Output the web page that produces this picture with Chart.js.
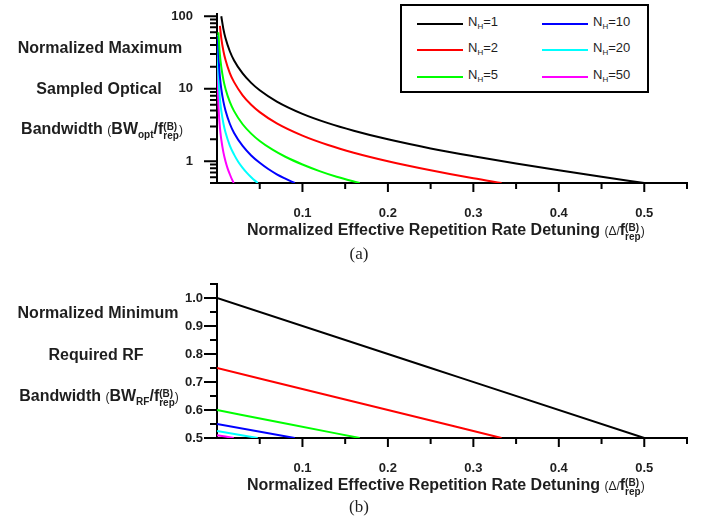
<!DOCTYPE html>
<html>
<head>
<meta charset="utf-8">
<script src="https://cdn.jsdelivr.net/npm/chart.js@4.4.1/dist/chart.umd.min.js"></script>
<style>
  html, body { margin: 0; padding: 0; background: #fff; }
  #wrap { position: relative; width: 711px; height: 521px; overflow: hidden;
          font-family: "Liberation Sans", Arial, sans-serif; color: #1e1e1e; }
  canvas { position: absolute; left: 0; }
  .ytl { position: absolute; font-weight: bold; font-size: 16px; line-height: 20px;
         white-space: nowrap; transform: translate(-50%, -50%); }
  .xtl { position: absolute; font-weight: bold; font-size: 16px; line-height: 20px;
         white-space: nowrap; transform: translateY(-50%); }
  .par { font-weight: normal; font-size: 12px; }
  .ytl sub { font-size: 10px; vertical-align: -4px; line-height: 0; }
  .ss { display: inline-block; vertical-align: -5px; font-size: 10px; line-height: 9px; text-align: left; }
  .ss span { display: block; }
  .cap { position: absolute; font-family: "Liberation Serif", "Times New Roman", serif;
         font-size: 17px; transform: translate(-50%, -50%); }
  #legenda { position: absolute; left: 400px; top: 4px; width: 249px; height: 89px;
             border: 2px solid #000; box-sizing: border-box; background: #fff; }
  .sw { position: absolute; width: 46px; height: 2px; }
  .lt { position: absolute; font-size: 13px; line-height: 15px; white-space: nowrap; }
  .lt sub { font-size: 8px; vertical-align: -3px; line-height: 0; }
</style>
</head>
<body>
<div id="wrap">
  <canvas id="graficoOpt" width="711" height="245" style="top:0px"></canvas>
  <canvas id="graficoRf" width="711" height="240" style="top:260px"></canvas>

  <div class="ytl" style="left:100px;top:48px">Normalized Maximum</div>
  <div class="ytl" style="left:99px;top:89px">Sampled Optical</div>
  <div class="ytl" style="left:102px;top:129px">Bandwidth <span class="par">(</span>BW<sub>opt</sub>/f<span class="ss"><span>(B)</span><span>rep</span></span><span class="par">)</span></div>
  <div class="xtl" style="left:247px;top:230px">Normalized Effective Repetition Rate Detuning <span class="par">(&Delta;/</span>f<span class="ss"><span>(B)</span><span>rep</span></span><span class="par">)</span></div>
  <div class="cap" style="left:359px;top:254px">(a)</div>

  <div class="ytl" style="left:98px;top:313px">Normalized Minimum</div>
  <div class="ytl" style="left:96px;top:355px">Required RF</div>
  <div class="ytl" style="left:99px;top:396px">Bandwidth <span class="par">(</span>BW<sub>RF</sub>/f<span class="ss"><span>(B)</span><span>rep</span></span><span class="par">)</span></div>
  <div class="xtl" style="left:247px;top:485px">Normalized Effective Repetition Rate Detuning <span class="par">(&Delta;/</span>f<span class="ss"><span>(B)</span><span>rep</span></span><span class="par">)</span></div>
  <div class="cap" style="left:359px;top:507px">(b)</div>

  <div id="legenda"></div>
</div>

<script>
// Series
const harmonics = [1, 2, 5, 10, 20, 50];
const lineColors = ['#000000', '#ff0000', '#00ff00', '#0000ff', '#00ffff', '#ff00ff'];

// (a) normalized max sampled optical bandwidth
const optX1 = [0.005, 0.0075, 0.01, 0.015, 0.02, 0.03, 0.04, 0.05, 0.07, 0.1, 0.13, 0.16, 0.2, 0.25, 0.3, 0.35, 0.4, 0.45, 0.5];
const optY1 = [99.5, 66.2, 49.5, 32.8, 24.5, 16.2, 12.0, 9.5, 6.64, 4.5, 3.35, 2.63, 2.0, 1.5, 1.17, 0.93, 0.75, 0.61, 0.5];
const optX2 = [0.0034, 0.005, 0.0075, 0.01, 0.015, 0.02, 0.03, 0.04, 0.05, 0.07, 0.1, 0.13, 0.16, 0.2, 0.25, 0.3, 0.333];
const optY2 = [73.3, 49.8, 33.1, 24.8, 16.4, 12.3, 8.1, 6.0, 4.75, 3.32, 2.25, 1.67, 1.31, 1.0, 0.75, 0.58, 0.5];
const optX5 = [0.00166, 0.0025, 0.0035, 0.005, 0.0075, 0.01, 0.015, 0.02, 0.03, 0.04, 0.05, 0.065, 0.08, 0.1, 0.12, 0.14, 0.167];
const optY5 = [60, 39.9, 28.5, 19.9, 13.2, 9.9, 6.57, 4.9, 3.23, 2.4, 1.9, 1.44, 1.15, 0.9, 0.73, 0.61, 0.5];
const optX10 = [0.00093, 0.0013, 0.0018, 0.0025, 0.0035, 0.005, 0.0075, 0.01, 0.015, 0.02, 0.03, 0.04, 0.05, 0.06, 0.07, 0.08, 0.091];
const optY10 = [53.7, 38.4, 27.7, 19.95, 14.2, 9.95, 6.62, 4.95, 3.28, 2.45, 1.62, 1.2, 0.95, 0.78, 0.66, 0.575, 0.5];
const optX20 = [0.00046, 0.0007, 0.001, 0.0015, 0.002, 0.003, 0.004, 0.005, 0.0075, 0.01, 0.015, 0.02, 0.025, 0.03, 0.035, 0.04, 0.0476];
const optY20 = [54.3, 35.7, 25.0, 16.6, 12.5, 8.3, 6.2, 4.98, 3.31, 2.48, 1.64, 1.23, 0.975, 0.81, 0.69, 0.6, 0.5];
const optX50 = [0.0004, 0.0006, 0.0008, 0.001, 0.0015, 0.002, 0.003, 0.004, 0.005, 0.0075, 0.01, 0.0125, 0.015, 0.0175, 0.0196];
const optY50 = [25.0, 16.7, 12.5, 9.99, 6.66, 4.99, 3.32, 2.49, 1.99, 1.32, 0.99, 0.79, 0.66, 0.56, 0.5];

// (b) normalized min required RF bandwidth (straight lines)
const rfX1 = [0, 0.25, 0.5];
const rfY1 = [1.0, 0.75, 0.5];
const rfX2 = [0, 0.1667, 0.333];
const rfY2 = [0.75, 0.625, 0.5];
const rfX5 = [0, 0.0833, 0.167];
const rfY5 = [0.6, 0.55, 0.5];
const rfX10 = [0, 0.091];
const rfY10 = [0.55, 0.5];
const rfX20 = [0, 0.0476];
const rfY20 = [0.525, 0.5];
const rfX50 = [0, 0.0196];
const rfY50 = [0.51, 0.5];

// Tick values
const detuneTicks = [0.1, 0.2, 0.3, 0.4, 0.5];
const detuneMinor = [0.05, 0.15, 0.25, 0.35, 0.45, 0.55];
const optTicks = [1, 10, 100];
const optMinor = [0.5, 0.6, 0.7, 0.8, 0.9, 2, 3, 4, 5, 6, 7, 8, 9, 20, 30, 40, 50, 60, 70, 80, 90];
const rfTicks = [0.5, 0.6, 0.7, 0.8, 0.9, 1.0];
const rfMinor = [0.55, 0.65, 0.75, 0.85, 0.95, 1.05];

const optXs = [optX1, optX2, optX5, optX10, optX20, optX50];
const optYs = [optY1, optY2, optY5, optY10, optY20, optY50];
const rfXs = [rfX1, rfX2, rfX5, rfX10, rfX20, rfX50];
const rfYs = [rfY1, rfY2, rfY5, rfY10, rfY20, rfY50];

Chart.defaults.font.family = '"Liberation Sans", Arial, sans-serif';

// Outward tick marks, major and minor
const tickMarks = {
  id: 'tickMarks',
  afterDraw(chart, args, opts) {
    const { ctx } = chart;
    const sx = chart.scales.x;
    const sy = chart.scales.y;
    const base = chart.chartArea.bottom;
    const left = chart.chartArea.left;
    ctx.save();
    ctx.strokeStyle = '#000';
    ctx.lineWidth = 2;
    ctx.beginPath();
    opts.xMajor.forEach(v => { const p = sx.getPixelForValue(v); ctx.moveTo(p, base); ctx.lineTo(p, base + 9); });
    opts.xMinor.forEach(v => { const p = sx.getPixelForValue(v); ctx.moveTo(p, base); ctx.lineTo(p, base + 6); });
    opts.yMajor.forEach(v => { const p = sy.getPixelForValue(v); ctx.moveTo(left, p); ctx.lineTo(left - 13, p); });
    opts.yMinor.forEach(v => { const p = sy.getPixelForValue(v); ctx.moveTo(left, p); ctx.lineTo(left - 7, p); });
    ctx.stroke();
    ctx.restore();
  }
};

function montarDatasets(xs, ys) {
  return harmonics.map((n, i) => ({
    label: 'NH=' + n,
    data: xs[i].map((x, k) => ({ x, y: ys[i][k] })),
    borderColor: lineColors[i],
    borderWidth: 2,
    pointRadius: 0,
    fill: false,
    cubicInterpolationMode: 'monotone'
  }));
}

function criarGrafico(id, datasets, yScale, yTicks, yMinor, yFmt, yPad, topPad) {
  return new Chart(document.getElementById(id), {
    type: 'line',
    data: { datasets },
    options: {
      responsive: false,
      animation: false,
      events: [],
      layout: { padding: { left: 0, right: 24, top: topPad, bottom: 0 } },
      scales: {
        x: {
          type: 'linear',
          min: 0,
          max: 0.55,
          afterBuildTicks: axis => { axis.ticks = detuneTicks.map(v => ({ value: v })); },
          afterFit: s => { s.height = 62; s.paddingLeft = 0; s.paddingRight = 0; },
          grid: { display: false, drawTicks: false },
          border: { display: true, color: '#000', width: 2 },
          ticks: {
            padding: 23,
            autoSkip: false,
            maxRotation: 0,
            color: '#1e1e1e',
            font: { size: 13, weight: 'bold' },
            callback: v => Number(v).toFixed(1)
          }
        },
        y: Object.assign(yScale, {
          afterBuildTicks: axis => { axis.ticks = yTicks.map(v => ({ value: v })); },
          // keep label overhang from pushing the plot area down
          afterFit: s => { s.width = 217; s.paddingTop = 0; s.paddingBottom = 0; },
          grid: { display: false, drawTicks: false },
          border: { display: true, color: '#000', width: 2 },
          ticks: {
            padding: yPad,
            autoSkip: false,
            color: '#1e1e1e',
            font: { size: 13, weight: 'bold' },
            callback: yFmt
          }
        })
      },
      plugins: {
        legend: { display: false },
        tooltip: { enabled: false },
        tickMarks: { xMajor: detuneTicks, xMinor: detuneMinor, yMajor: yTicks, yMinor: yMinor }
      }
    },
    plugins: [tickMarks]
  });
}

// (a)
criarGrafico('graficoOpt', montarDatasets(optXs, optYs),
  { type: 'logarithmic', min: 0.5, max: 107 }, optTicks, optMinor, v => String(v), 24, 14);

// (b)
criarGrafico('graficoRf', montarDatasets(rfXs, rfYs),
  { type: 'linear', min: 0.5, max: 1.05 }, rfTicks, rfMinor, v => Number(v).toFixed(1), 14, 24);

// Legend box
const legendaEl = document.getElementById('legenda');
const rowsY = [18, 43.5, 70.5];
harmonics.forEach((n, i) => {
  const colX = i < 3 ? 15 : 140;
  const rowY = rowsY[i % 3];
  const sw = document.createElement('div');
  sw.className = 'sw';
  sw.style.left = colX + 'px';
  sw.style.top = (rowY - 1) + 'px';
  sw.style.background = lineColors[i];
  legendaEl.appendChild(sw);
  const txt = document.createElement('div');
  txt.className = 'lt';
  txt.style.left = (colX + 51) + 'px';
  txt.style.top = (rowY - 10) + 'px';
  txt.innerHTML = 'N<sub>H</sub>=' + n;
  legendaEl.appendChild(txt);
});
</script>
</body>
</html>
